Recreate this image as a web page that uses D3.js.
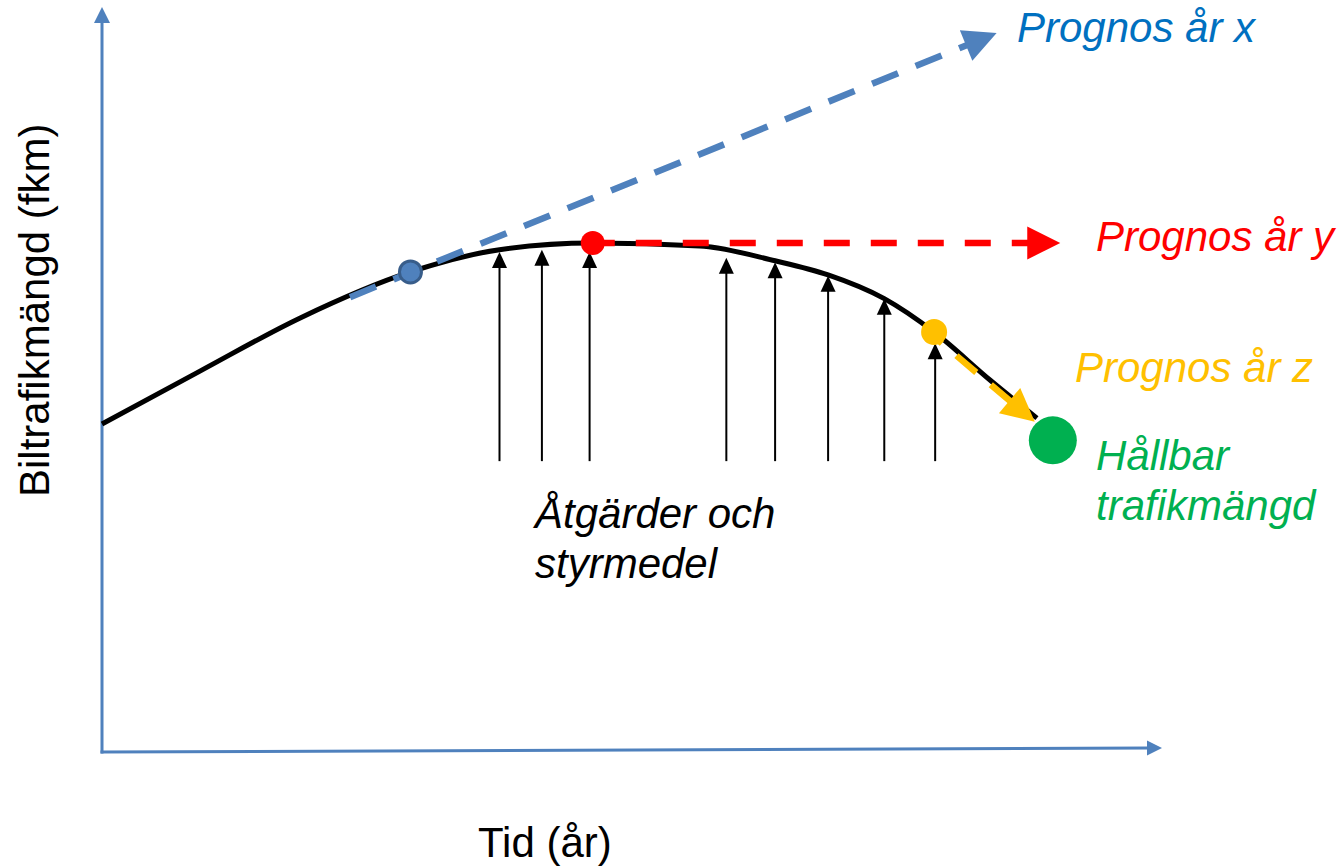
<!DOCTYPE html>
<html>
<head>
<meta charset="utf-8">
<script src="https://cdn.jsdelivr.net/npm/d3@7"></script>
<style>
html, body { margin: 0; padding: 0; background: #fff; }
svg { display: block; font-family: "Liberation Sans", Arial, sans-serif; }
</style>
</head>
<body>
<svg id="chart" width="1344" height="868"></svg>
<script>
// conceptual units: time 0-100, traffic volume 0-100
const curveTime = [0, 9.2, 18.7, 29.1, 37.5, 46.3, 56.4, 63.5, 68.5, 73.8, 78.5, 83.8, 88.2];
const curveVolume = [44.2, 51.3, 58.5, 64.7, 67.7, 68.6, 68.2, 66.2, 64.3, 61.1, 56.6, 50.1, 45.0];

// measures (Åtgärder och styrmedel) pushing the curve down
const measureTime = [37.5, 41.5, 46.0, 58.9, 63.5, 68.5, 73.8, 78.6];
const measureTop = [67.4, 67.7, 67.4, 66.6, 66.0, 64.2, 61.1, 55.1];
const measureBase = 39.2;

// forecasts x, y, z
const forecastNames = ["Prognos år x", "Prognos år y", "Prognos år z"];
const forecastStart = [[23.4, 61.3], [46.3, 68.6], [78.3, 56.2]];
const forecastEnd = [[84.4, 96.9], [90.4, 68.6], [88.0, 44.5]];
const dotTime = [29.1, 46.3, 78.5];
const dotVolume = [64.7, 68.6, 56.6];

// sustainable level
const goalTime = 89.7;
const goalVolume = 42.0;

const chart = d3.select("#chart");
const x = d3.scaleLinear().domain([0, 100]).range([102, 1162]);
const y = d3.scaleLinear().domain([0, 100]).range([752, 10]);

const axisColor = "#4F81BD";
const forecastColors = ["#4F81BD", "#FF0000", "#FFC000"];
const labelColors = ["#0070C0", "#FF0000", "#FFC000"];
const dotRadius = [11, 12, 13];
const dashes = [[28, 19], [26, 21], [26, 19]];
const dashOffset = [0, 4, 13];

// line with a filled triangle head at (x2, y2)
function arrow(g, x1, y1, x2, y2, color, width, headLen, headW, dash, offset) {
    const dx = x2 - x1, dy = y2 - y1;
    const len = Math.sqrt(dx * dx + dy * dy);
    const ux = dx / len, uy = dy / len;
    const bx = x2 - ux * headLen, by = y2 - uy * headLen;
    const line = g.append("line")
        .attr("x1", x1).attr("y1", y1)
        .attr("x2", x2 - ux * headLen * 0.8).attr("y2", y2 - uy * headLen * 0.8)
        .attr("stroke", color)
        .attr("stroke-width", width);
    if (dash) {
        line.attr("stroke-dasharray", dash.join(","))
            .attr("stroke-dashoffset", offset || 0);
    }
    const px = -uy * headW / 2, py = ux * headW / 2;
    g.append("path")
        .attr("d", "M" + x2 + "," + y2 + "L" + (bx + px) + "," + (by + py) + "L" + (bx - px) + "," + (by - py) + "Z")
        .attr("fill", color);
}

// axes
const axis = chart.append("g").attr("id", "axis");
arrow(axis, x(0), y(0) + 1.5, x(0), y(0) - 745, axisColor, 3, 16, 16);
arrow(axis, x(0) - 1.5, y(0), x(100), y(0) - 4, axisColor, 3, 15, 15);

// measures
const measures = chart.append("g").attr("id", "measures");
measureTime.forEach((t, i) => {
    arrow(measures, x(t), y(measureBase), x(t), y(measureTop[i]), "#000", 2, 16, 15);
});

// traffic curve
const line = d3.line()
    .x(d => x(d[0]))
    .y(d => y(d[1]))
    .curve(d3.curveMonotoneX);
chart.append("path")
    .datum(curveTime.map((t, i) => [t, curveVolume[i]]))
    .attr("d", line)
    .attr("fill", "none")
    .attr("stroke", "#000")
    .attr("stroke-width", 5);

// forecast dashed arrows, on top of the curve
const forecasts = chart.append("g").attr("id", "forecasts");
forecastStart.forEach((s, i) => {
    const e = forecastEnd[i];
    arrow(forecasts, x(s[0]), y(s[1]), x(e[0]), y(e[1]), forecastColors[i], 6.5, 33, 33, dashes[i], dashOffset[i]);
});

// forecast points
chart.append("g").selectAll("circle")
    .data(dotTime)
    .enter()
    .append("circle")
    .attr("cx", d => x(d))
    .attr("cy", (d, i) => y(dotVolume[i]))
    .attr("r", (d, i) => dotRadius[i])
    .attr("fill", (d, i) => forecastColors[i])
    .attr("stroke", (d, i) => i === 0 ? "#385D8A" : "none")
    .attr("stroke-width", 3);

chart.append("circle")
    .attr("cx", x(goalTime))
    .attr("cy", y(goalVolume))
    .attr("r", 24)
    .attr("fill", "#00B050");

// labels
const labelPos = [[1017, 42], [1096, 251], [1075, 382]];
forecastNames.forEach((name, i) => {
    chart.append("text")
        .text(name)
        .attr("x", labelPos[i][0])
        .attr("y", labelPos[i][1])
        .attr("font-size", "42px")
        .attr("font-style", "italic")
        .attr("fill", labelColors[i]);
});

function textLines(lines, x0, y0, step, color, italic) {
    lines.forEach((t, i) => {
        chart.append("text")
            .text(t)
            .attr("x", x0)
            .attr("y", y0 + i * step)
            .attr("font-size", "42px")
            .attr("font-style", italic ? "italic" : "normal")
            .attr("fill", color);
    });
}
textLines(["Hållbar", "trafikmängd"], 1096, 470, 50, "#00B050", true);
textLines(["Åtgärder och", "styrmedel"], 535, 528, 50, "#000", true);
textLines(["Tid (år)"], 478, 857, 0, "#000", false);

chart.append("text")
    .text("Biltrafikmängd (fkm)")
    .attr("font-size", "42px")
    .attr("fill", "#000")
    .attr("transform", "translate(49, 497) rotate(-90)");
</script>
</body>
</html>
